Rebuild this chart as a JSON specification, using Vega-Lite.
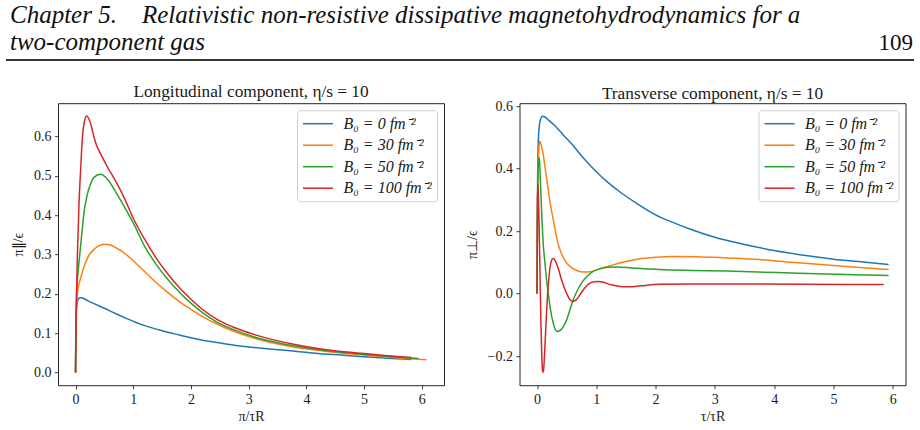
{
  "$schema": "https://vega.github.io/schema/vega-lite/v6.json",
  "background": "white",
  "padding": {"left": 5, "right": 5, "top": 0, "bottom": 5},
  "columns": 1,
  "spacing": 21.2,
  "config": {
    "font": "Liberation Serif",
    "view": {"stroke": "#262626", "strokeWidth": 1},
    "axis": {
      "grid": false, "domain": false,
      "tickColor": "#262626", "tickSize": 3.5, "tickWidth": 0.9,
      "labelFont": "Liberation Serif", "labelFontSize": 14, "labelColor": "#1a1a1a", "labelPadding": 3.5,
      "titleFont": "Liberation Serif", "titleFontSize": 14, "titleFontWeight": "normal", "titleColor": "#1a1a1a"
    },
    "axisY": {"titlePadding": 8},
    "axisX": {"titlePadding": 3},
    "title": {"font": "Liberation Serif", "fontSize": 17.3, "fontWeight": "normal", "color": "#1a1a1a", "frame": "group"},
    "legend": {
      "orient": "top-right", "offset": 7, "title": null,
      "strokeColor": "#d0d0d0", "fillColor": "rgba(255,255,255,0.85)", "cornerRadius": 3, "padding": 5,
      "labelFont": "Liberation Serif", "labelFontSize": 16, "labelFontStyle": "italic", "labelColor": "#1a1a1a",
      "symbolType": "M-2,0H2", "symbolSize": 225, "symbolStrokeWidth": 1.5, "symbolOffset": 7.5,
      "labelOffset": 17, "rowPadding": 4.5
    }
  },
  "datasets": {
    "header": [
      {"part": "heading", "line": 1, "text": "Chapter 5.\u2003Relativistic non-resistive dissipative magnetohydrodynamics for a"},
      {"part": "heading", "line": 2, "text": "two-component gas"},
      {"part": "page", "line": 2, "text": "109"}
    ],
    "longitudinal": [
      {"B0": 0, "t": 0, "pi": 0}, {"B0": 0, "t": 0.005, "pi": 0.1}, {"B0": 0, "t": 0.015, "pi": 0.16}, {"B0": 0, "t": 0.03, "pi": 0.178},
      {"B0": 0, "t": 0.05, "pi": 0.187}, {"B0": 0, "t": 0.08, "pi": 0.19}, {"B0": 0, "t": 0.12, "pi": 0.189}, {"B0": 0, "t": 0.2, "pi": 0.183},
      {"B0": 0, "t": 0.35, "pi": 0.173}, {"B0": 0, "t": 0.5, "pi": 0.163}, {"B0": 0, "t": 0.7, "pi": 0.149}, {"B0": 0, "t": 0.9, "pi": 0.136},
      {"B0": 0, "t": 1.05, "pi": 0.127}, {"B0": 0, "t": 1.2, "pi": 0.119}, {"B0": 0, "t": 1.4, "pi": 0.11}, {"B0": 0, "t": 1.6, "pi": 0.102},
      {"B0": 0, "t": 1.8, "pi": 0.095}, {"B0": 0, "t": 2.0, "pi": 0.088}, {"B0": 0, "t": 2.2, "pi": 0.082}, {"B0": 0, "t": 2.45, "pi": 0.076},
      {"B0": 0, "t": 2.75, "pi": 0.069}, {"B0": 0, "t": 3.1, "pi": 0.063}, {"B0": 0, "t": 3.45, "pi": 0.058}, {"B0": 0, "t": 3.8, "pi": 0.054},
      {"B0": 0, "t": 4.2, "pi": 0.048}, {"B0": 0, "t": 4.6, "pi": 0.044}, {"B0": 0, "t": 5.0, "pi": 0.04}, {"B0": 0, "t": 5.4, "pi": 0.036},
      {"B0": 0, "t": 5.82, "pi": 0.033},

      {"B0": 30, "t": 0, "pi": 0}, {"B0": 30, "t": 0.005, "pi": 0.1}, {"B0": 30, "t": 0.015, "pi": 0.17}, {"B0": 30, "t": 0.04, "pi": 0.21},
      {"B0": 30, "t": 0.09, "pi": 0.24}, {"B0": 30, "t": 0.15, "pi": 0.27}, {"B0": 30, "t": 0.21, "pi": 0.292}, {"B0": 30, "t": 0.32, "pi": 0.313},
      {"B0": 30, "t": 0.42, "pi": 0.323}, {"B0": 30, "t": 0.5, "pi": 0.326}, {"B0": 30, "t": 0.6, "pi": 0.324}, {"B0": 30, "t": 0.7, "pi": 0.317},
      {"B0": 30, "t": 0.85, "pi": 0.303}, {"B0": 30, "t": 1.0, "pi": 0.284}, {"B0": 30, "t": 1.2, "pi": 0.256}, {"B0": 30, "t": 1.4, "pi": 0.228},
      {"B0": 30, "t": 1.6, "pi": 0.203}, {"B0": 30, "t": 1.8, "pi": 0.18}, {"B0": 30, "t": 2.0, "pi": 0.16}, {"B0": 30, "t": 2.2, "pi": 0.142},
      {"B0": 30, "t": 2.45, "pi": 0.123}, {"B0": 30, "t": 2.75, "pi": 0.104}, {"B0": 30, "t": 3.1, "pi": 0.087}, {"B0": 30, "t": 3.45, "pi": 0.074},
      {"B0": 30, "t": 3.8, "pi": 0.064}, {"B0": 30, "t": 4.2, "pi": 0.056}, {"B0": 30, "t": 4.6, "pi": 0.049}, {"B0": 30, "t": 5.0, "pi": 0.044},
      {"B0": 30, "t": 5.5, "pi": 0.038}, {"B0": 30, "t": 6.08, "pi": 0.032},

      {"B0": 50, "t": 0, "pi": 0}, {"B0": 50, "t": 0.005, "pi": 0.12}, {"B0": 50, "t": 0.015, "pi": 0.19}, {"B0": 50, "t": 0.03, "pi": 0.23},
      {"B0": 50, "t": 0.06, "pi": 0.28}, {"B0": 50, "t": 0.1, "pi": 0.34}, {"B0": 50, "t": 0.15, "pi": 0.41}, {"B0": 50, "t": 0.2, "pi": 0.45},
      {"B0": 50, "t": 0.25, "pi": 0.475}, {"B0": 50, "t": 0.32, "pi": 0.496}, {"B0": 50, "t": 0.43, "pi": 0.504}, {"B0": 50, "t": 0.55, "pi": 0.492},
      {"B0": 50, "t": 0.7, "pi": 0.458}, {"B0": 50, "t": 0.85, "pi": 0.42}, {"B0": 50, "t": 1.0, "pi": 0.38}, {"B0": 50, "t": 1.2, "pi": 0.32},
      {"B0": 50, "t": 1.4, "pi": 0.274}, {"B0": 50, "t": 1.6, "pi": 0.236}, {"B0": 50, "t": 1.8, "pi": 0.204}, {"B0": 50, "t": 2.0, "pi": 0.176},
      {"B0": 50, "t": 2.2, "pi": 0.152}, {"B0": 50, "t": 2.45, "pi": 0.128}, {"B0": 50, "t": 2.75, "pi": 0.108}, {"B0": 50, "t": 3.1, "pi": 0.09},
      {"B0": 50, "t": 3.45, "pi": 0.077}, {"B0": 50, "t": 3.8, "pi": 0.067}, {"B0": 50, "t": 4.2, "pi": 0.058}, {"B0": 50, "t": 4.6, "pi": 0.051},
      {"B0": 50, "t": 5.0, "pi": 0.046}, {"B0": 50, "t": 5.5, "pi": 0.04}, {"B0": 50, "t": 5.94, "pi": 0.035},

      {"B0": 100, "t": 0, "pi": 0}, {"B0": 100, "t": 0.01, "pi": 0.12}, {"B0": 100, "t": 0.02, "pi": 0.22}, {"B0": 100, "t": 0.035, "pi": 0.31},
      {"B0": 100, "t": 0.06, "pi": 0.43}, {"B0": 100, "t": 0.09, "pi": 0.52}, {"B0": 100, "t": 0.12, "pi": 0.6}, {"B0": 100, "t": 0.15, "pi": 0.635},
      {"B0": 100, "t": 0.19, "pi": 0.652}, {"B0": 100, "t": 0.23, "pi": 0.645}, {"B0": 100, "t": 0.27, "pi": 0.628}, {"B0": 100, "t": 0.32, "pi": 0.598},
      {"B0": 100, "t": 0.37, "pi": 0.575}, {"B0": 100, "t": 0.42, "pi": 0.56}, {"B0": 100, "t": 0.55, "pi": 0.523}, {"B0": 100, "t": 0.7, "pi": 0.485},
      {"B0": 100, "t": 0.85, "pi": 0.442}, {"B0": 100, "t": 1.0, "pi": 0.392}, {"B0": 100, "t": 1.2, "pi": 0.338}, {"B0": 100, "t": 1.4, "pi": 0.29},
      {"B0": 100, "t": 1.6, "pi": 0.25}, {"B0": 100, "t": 1.8, "pi": 0.215}, {"B0": 100, "t": 2.0, "pi": 0.186}, {"B0": 100, "t": 2.2, "pi": 0.16},
      {"B0": 100, "t": 2.45, "pi": 0.135}, {"B0": 100, "t": 2.75, "pi": 0.114}, {"B0": 100, "t": 3.1, "pi": 0.096}, {"B0": 100, "t": 3.45, "pi": 0.082},
      {"B0": 100, "t": 3.8, "pi": 0.071}, {"B0": 100, "t": 4.2, "pi": 0.061}, {"B0": 100, "t": 4.6, "pi": 0.053}, {"B0": 100, "t": 5.0, "pi": 0.048},
      {"B0": 100, "t": 5.4, "pi": 0.042}, {"B0": 100, "t": 5.82, "pi": 0.038}
    ],
    "transverse": [
      {"B0": 0, "t": 0, "pi": 0}, {"B0": 0, "t": 0.005, "pi": 0.2}, {"B0": 0, "t": 0.01, "pi": 0.38}, {"B0": 0, "t": 0.02, "pi": 0.48},
      {"B0": 0, "t": 0.035, "pi": 0.53}, {"B0": 0, "t": 0.06, "pi": 0.558}, {"B0": 0, "t": 0.09, "pi": 0.567}, {"B0": 0, "t": 0.13, "pi": 0.565},
      {"B0": 0, "t": 0.2, "pi": 0.554}, {"B0": 0, "t": 0.3, "pi": 0.537}, {"B0": 0, "t": 0.45, "pi": 0.506}, {"B0": 0, "t": 0.6, "pi": 0.475},
      {"B0": 0, "t": 0.8, "pi": 0.43}, {"B0": 0, "t": 1.0, "pi": 0.39}, {"B0": 0, "t": 1.2, "pi": 0.355}, {"B0": 0, "t": 1.4, "pi": 0.325},
      {"B0": 0, "t": 1.67, "pi": 0.29}, {"B0": 0, "t": 2.0, "pi": 0.252}, {"B0": 0, "t": 2.3, "pi": 0.227}, {"B0": 0, "t": 2.6, "pi": 0.205},
      {"B0": 0, "t": 3.0, "pi": 0.18}, {"B0": 0, "t": 3.5, "pi": 0.157}, {"B0": 0, "t": 4.0, "pi": 0.138}, {"B0": 0, "t": 4.6, "pi": 0.12},
      {"B0": 0, "t": 5.0, "pi": 0.11}, {"B0": 0, "t": 5.5, "pi": 0.101}, {"B0": 0, "t": 5.93, "pi": 0.093},

      {"B0": 30, "t": 0, "pi": 0}, {"B0": 30, "t": 0.005, "pi": 0.2}, {"B0": 30, "t": 0.015, "pi": 0.38}, {"B0": 30, "t": 0.03, "pi": 0.46},
      {"B0": 30, "t": 0.045, "pi": 0.487}, {"B0": 30, "t": 0.07, "pi": 0.475}, {"B0": 30, "t": 0.1, "pi": 0.45}, {"B0": 30, "t": 0.13, "pi": 0.41},
      {"B0": 30, "t": 0.16, "pi": 0.37}, {"B0": 30, "t": 0.19, "pi": 0.33}, {"B0": 30, "t": 0.23, "pi": 0.28}, {"B0": 30, "t": 0.27, "pi": 0.24},
      {"B0": 30, "t": 0.31, "pi": 0.2}, {"B0": 30, "t": 0.35, "pi": 0.163}, {"B0": 30, "t": 0.42, "pi": 0.125}, {"B0": 30, "t": 0.49, "pi": 0.1},
      {"B0": 30, "t": 0.58, "pi": 0.083}, {"B0": 30, "t": 0.68, "pi": 0.073}, {"B0": 30, "t": 0.78, "pi": 0.069}, {"B0": 30, "t": 0.9, "pi": 0.07},
      {"B0": 30, "t": 1.0, "pi": 0.075}, {"B0": 30, "t": 1.11, "pi": 0.082}, {"B0": 30, "t": 1.25, "pi": 0.09}, {"B0": 30, "t": 1.39, "pi": 0.098},
      {"B0": 30, "t": 1.67, "pi": 0.109}, {"B0": 30, "t": 2.0, "pi": 0.116}, {"B0": 30, "t": 2.3, "pi": 0.119}, {"B0": 30, "t": 2.7, "pi": 0.118},
      {"B0": 30, "t": 3.2, "pi": 0.114}, {"B0": 30, "t": 3.74, "pi": 0.109}, {"B0": 30, "t": 4.3, "pi": 0.1}, {"B0": 30, "t": 5.0, "pi": 0.09},
      {"B0": 30, "t": 5.5, "pi": 0.083}, {"B0": 30, "t": 5.93, "pi": 0.077},

      {"B0": 50, "t": 0, "pi": 0}, {"B0": 50, "t": 0.005, "pi": 0.2}, {"B0": 50, "t": 0.015, "pi": 0.36}, {"B0": 50, "t": 0.03, "pi": 0.435},
      {"B0": 50, "t": 0.04, "pi": 0.43}, {"B0": 50, "t": 0.055, "pi": 0.37}, {"B0": 50, "t": 0.07, "pi": 0.295}, {"B0": 50, "t": 0.085, "pi": 0.23},
      {"B0": 50, "t": 0.1, "pi": 0.17}, {"B0": 50, "t": 0.13, "pi": 0.105}, {"B0": 50, "t": 0.16, "pi": 0.045}, {"B0": 50, "t": 0.19, "pi": 0.0},
      {"B0": 50, "t": 0.23, "pi": -0.055}, {"B0": 50, "t": 0.27, "pi": -0.092}, {"B0": 50, "t": 0.31, "pi": -0.115}, {"B0": 50, "t": 0.35, "pi": -0.121},
      {"B0": 50, "t": 0.4, "pi": -0.116}, {"B0": 50, "t": 0.45, "pi": -0.103}, {"B0": 50, "t": 0.49, "pi": -0.088}, {"B0": 50, "t": 0.55, "pi": -0.055},
      {"B0": 50, "t": 0.6, "pi": -0.025}, {"B0": 50, "t": 0.68, "pi": 0.01}, {"B0": 50, "t": 0.77, "pi": 0.039}, {"B0": 50, "t": 0.86, "pi": 0.058},
      {"B0": 50, "t": 0.94, "pi": 0.07}, {"B0": 50, "t": 1.05, "pi": 0.079}, {"B0": 50, "t": 1.2, "pi": 0.084}, {"B0": 50, "t": 1.35, "pi": 0.085},
      {"B0": 50, "t": 1.6, "pi": 0.082}, {"B0": 50, "t": 2.06, "pi": 0.077}, {"B0": 50, "t": 2.6, "pi": 0.074}, {"B0": 50, "t": 3.2, "pi": 0.072},
      {"B0": 50, "t": 3.74, "pi": 0.069}, {"B0": 50, "t": 4.4, "pi": 0.065}, {"B0": 50, "t": 5.2, "pi": 0.061}, {"B0": 50, "t": 5.93, "pi": 0.058},

      {"B0": 100, "t": 0, "pi": 0}, {"B0": 100, "t": 0.004, "pi": 0.15}, {"B0": 100, "t": 0.008, "pi": 0.3}, {"B0": 100, "t": 0.013, "pi": 0.349},
      {"B0": 100, "t": 0.02, "pi": 0.33}, {"B0": 100, "t": 0.035, "pi": 0.22}, {"B0": 100, "t": 0.05, "pi": 0.06}, {"B0": 100, "t": 0.065, "pi": -0.09},
      {"B0": 100, "t": 0.08, "pi": -0.2}, {"B0": 100, "t": 0.092, "pi": -0.245}, {"B0": 100, "t": 0.1, "pi": -0.252}, {"B0": 100, "t": 0.11, "pi": -0.245},
      {"B0": 100, "t": 0.125, "pi": -0.2}, {"B0": 100, "t": 0.15, "pi": -0.1}, {"B0": 100, "t": 0.175, "pi": -0.01}, {"B0": 100, "t": 0.2, "pi": 0.05},
      {"B0": 100, "t": 0.235, "pi": 0.1}, {"B0": 100, "t": 0.27, "pi": 0.112}, {"B0": 100, "t": 0.3, "pi": 0.108}, {"B0": 100, "t": 0.35, "pi": 0.085},
      {"B0": 100, "t": 0.42, "pi": 0.04}, {"B0": 100, "t": 0.5, "pi": 0.0}, {"B0": 100, "t": 0.56, "pi": -0.02}, {"B0": 100, "t": 0.6, "pi": -0.025},
      {"B0": 100, "t": 0.66, "pi": -0.02}, {"B0": 100, "t": 0.72, "pi": -0.005}, {"B0": 100, "t": 0.8, "pi": 0.017}, {"B0": 100, "t": 0.88, "pi": 0.032},
      {"B0": 100, "t": 0.96, "pi": 0.038}, {"B0": 100, "t": 1.04, "pi": 0.039}, {"B0": 100, "t": 1.12, "pi": 0.036}, {"B0": 100, "t": 1.25, "pi": 0.028},
      {"B0": 100, "t": 1.4, "pi": 0.023}, {"B0": 100, "t": 1.55, "pi": 0.022}, {"B0": 100, "t": 1.75, "pi": 0.025}, {"B0": 100, "t": 2.06, "pi": 0.03},
      {"B0": 100, "t": 2.6, "pi": 0.031}, {"B0": 100, "t": 3.5, "pi": 0.031}, {"B0": 100, "t": 4.5, "pi": 0.03}, {"B0": 100, "t": 5.85, "pi": 0.029}
    ]
  },
  "concat": [
    {
      "width": 856,
      "height": 60,
      "view": {"stroke": null},
      "data": {"name": "header"},
      "encoding": {
        "y": {"field": "line", "type": "quantitative", "scale": {"domain": [0.15, 2.39], "reverse": true, "nice": false, "zero": false}, "axis": null}
      },
      "layer": [
        {
          "transform": [{"filter": "datum.part === 'heading'"}],
          "mark": {"type": "text", "align": "left", "baseline": "alphabetic", "font": "Liberation Serif", "fontStyle": "italic", "fontSize": 25, "color": "#111"},
          "encoding": {
            "x": {"datum": -0.0561, "type": "quantitative", "scale": {"domain": [0, 1], "nice": false, "zero": false}, "axis": null},
            "text": {"field": "text"}
          }
        },
        {
          "transform": [{"filter": "datum.part === 'page'"}],
          "mark": {"type": "text", "align": "right", "baseline": "alphabetic", "font": "Liberation Serif", "fontSize": 23, "color": "#111"},
          "encoding": {"x": {"datum": 0.9988, "type": "quantitative"}, "text": {"field": "text"}}
        },
        {
          "mark": {"type": "rule", "color": "#333", "strokeWidth": 1.5},
          "encoding": {"x": {"datum": -0.0607, "type": "quantitative"}, "x2": {"datum": 1}, "y": {"datum": 2.39, "type": "quantitative"}}
        }
      ]
    },
    {
      "hconcat": [
        {
          "width": 386,
          "height": 282,
          "title": {"text": "Longitudinal component, η/s = 10", "offset": 2.6},
          "data": {"name": "longitudinal"},
          "mark": {"type": "line", "strokeWidth": 1.5, "interpolate": "monotone"},
          "encoding": {
            "x": {"field": "t", "type": "quantitative", "scale": {"domain": [-0.304, 6.384], "nice": false, "zero": false},
              "axis": {"values": [0, 1, 2, 3, 4, 5, 6], "format": "d", "title": "π/τR"}},
            "y": {"field": "pi", "type": "quantitative", "scale": {"domain": [-0.0326, 0.6846], "nice": false, "zero": false},
              "axis": {"values": [0, 0.1, 0.2, 0.3, 0.4, 0.5, 0.6], "format": ".1f", "title": "π∥/ϵ"}},
            "color": {"field": "B0", "type": "nominal",
              "scale": {"domain": [0, 30, 50, 100], "range": ["#1f77b4", "#ff7f0e", "#2ca02c", "#d62728"]},
              "legend": {"labelExpr": "'B₀ = ' + datum.label + ' fm⁻²'"}}
          }
        },
        {
          "width": 386,
          "height": 282,
          "title": {"text": "Transverse component, η/s = 10", "offset": -3.4},
          "data": {"name": "transverse"},
          "mark": {"type": "line", "strokeWidth": 1.5, "interpolate": "monotone"},
          "encoding": {
            "x": {"field": "t", "type": "quantitative", "scale": {"domain": [-0.296, 6.216], "nice": false, "zero": false},
              "axis": {"values": [0, 1, 2, 3, 4, 5, 6], "format": "d", "title": "τ/τR"}},
            "y": {"field": "pi", "type": "quantitative", "scale": {"domain": [-0.293, 0.609], "nice": false, "zero": false},
              "axis": {"values": [-0.2, 0, 0.2, 0.4, 0.6], "format": ".1f", "title": "π⊥/ϵ"}},
            "color": {"field": "B0", "type": "nominal",
              "scale": {"domain": [0, 30, 50, 100], "range": ["#1f77b4", "#ff7f0e", "#2ca02c", "#d62728"]},
              "legend": {"labelExpr": "'B₀ = ' + datum.label + ' fm⁻²'"}}
          }
        }
      ],
      "bounds": "flush",
      "spacing": 75.5,
      "resolve": {"scale": {"color": "independent"}, "legend": {"color": "independent"}}
    }
  ]
}
